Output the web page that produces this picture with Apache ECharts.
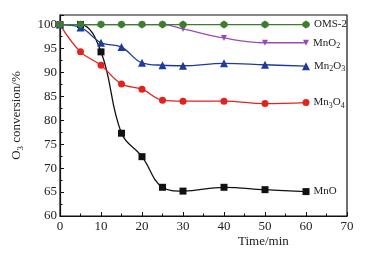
<!DOCTYPE html>
<html>
<head>
<meta charset="utf-8">
<script src="https://cdn.jsdelivr.net/npm/echarts@6/dist/echarts.min.js"></script>
<style>
html,body{margin:0;padding:0;background:#fff;}
#chart{width:371px;height:254px;}
</style>
</head>
<body>
<div id="chart"></div>
<script>
var times = [0, 5, 10, 15, 20, 25, 30, 40, 50, 60];
var oms2 = [100, 100, 100, 100, 100, 100, 100, 100, 100, 100];
var mno2 = [100, 100, 100, 100, 100, 100, 99.1, 97.2, 96.2, 96.2];
var mn2o3 = [100, 99.4, 96.2, 95.3, 92.0, 91.5, 91.4, 91.9, 91.6, 91.3];
var mn3o4 = [100, 94.3, 91.5, 87.6, 86.5, 84.2, 84.0, 84.0, 83.5, 83.7];
var mno = [100, 100, 94.3, 77.3, 72.4, 66.0, 65.2, 66.0, 65.5, 65.1];
var xTicks = [0, 10, 20, 30, 40, 50, 60, 70];
var yTicks = [60, 65, 70, 75, 80, 85, 90, 95, 100];

var font = '"Liberation Serif", "DejaVu Serif", serif';
var rich = {
    sub: {fontSize: 8, fontFamily: font, color: '#222', verticalAlign: 'bottom', padding: [6, 0, 0, 0]},
    n: {fontSize: 11, fontFamily: font, color: '#222'}
};

function build(name, values, color, symbol, size, labelText) {
    var data = [];
    for (var i = 0; i < times.length; i++) {
        var item = {value: [times[i], values[i]]};
        if (i == times.length - 1) {
            item.label = {
                show: true,
                position: 'right',
                distance: 4,
                formatter: labelText,
                rich: rich
            };
        }
        data.push(item);
    }
    return {
        name: name,
        type: 'line',
        smooth: 0.4,
        data: data,
        symbol: symbol,
        symbolSize: size,
        itemStyle: {color: color},
        lineStyle: {color: color, width: 1.3},
        label: {show: false},
        z: 2
    };
}

var myChart = echarts.init(document.getElementById('chart'));

var option = {
    animation: false,
    textStyle: {fontFamily: font},
    grid: {left: 60, right: 24, top: 15, bottom: 38, show: true, borderColor: '#111', borderWidth: 1.2},
    xAxis: {
        type: 'value',
        min: 0,
        max: 70,
        interval: 10,
        axisLine: {lineStyle: {color: '#111', width: 1.2}},
        axisTick: {inside: true, length: 4, lineStyle: {color: '#111'}},
        minorTick: {show: true, splitNumber: 2, length: 2.5, lineStyle: {color: '#111'}},
        splitLine: {show: false},
        axisLabel: {color: '#222', fontSize: 13, fontFamily: font, margin: 4}
    },
    yAxis: {
        type: 'value',
        min: 60,
        max: 102,
        interval: 5,
        name: 'O{s|3} conversion/%',
        nameLocation: 'middle',
        nameGap: 35,
        nameRotate: 90,
        nameTextStyle: {
            color: '#222', fontSize: 13, fontFamily: font,
            rich: {s: {fontSize: 9, fontFamily: font, color: '#222', padding: [8, 0, 0, 0]}}
        },
        axisLine: {lineStyle: {color: '#111', width: 1.2}},
        axisTick: {inside: true, length: 4, lineStyle: {color: '#111'}},
        minorTick: {show: true, splitNumber: 2, length: 2.5, lineStyle: {color: '#111'}},
        splitLine: {show: false},
        axisLabel: {
            color: '#222', fontSize: 13, fontFamily: font, margin: 3, showMaxLabel: false,
            formatter: function (v) { return yTicks.indexOf(v) >= 0 ? v : ''; }
        }
    },
    graphic: [{
        type: 'text',
        left: 238,
        top: 235,
        style: {text: 'Time/min', fontSize: 13, fontFamily: font, fill: '#222'}
    }],
    series: [
        build('MnO', mno, '#111111', 'rect', 7, '{n|MnO}'),
        build('Mn3O4', mn3o4, '#e3221f', 'circle', 7, '{n|Mn}{sub|3}{n|O}{sub|4}'),
        build('Mn2O3', mn2o3, '#1d3aa0', 'triangle', 8, '{n|Mn}{sub|2}{n|O}{sub|3}'),
        build('MnO2', mno2, '#9a4cb2', 'path://M0,0 L10,0 L5,9 Z', 6, '{n|MnO}{sub|2}'),
        build('OMS-2', oms2, '#3b7f2e', 'path://M5,0 L9,2.5 L10,5 L9,7.5 L5,10 L1,7.5 L0,5 L1,2.5 Z', 8, '{n|OMS-2}')
    ]
};

myChart.setOption(option);
</script>
</body>
</html>
